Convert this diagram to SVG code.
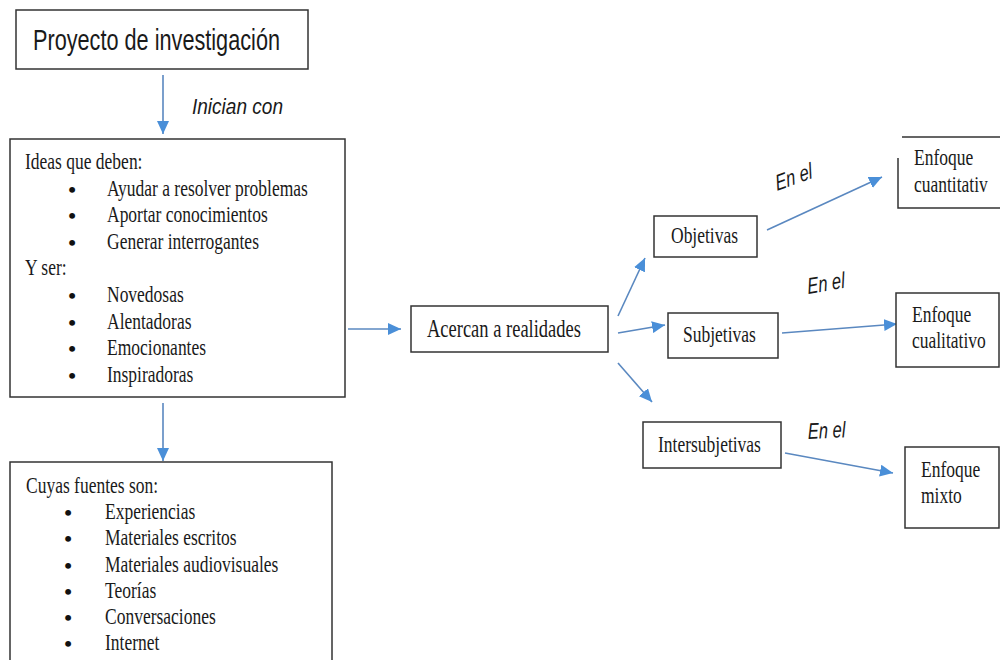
<svg xmlns="http://www.w3.org/2000/svg" width="1000" height="660" viewBox="0 0 1000 660">
<style>
.box{fill:#fff;stroke:#333;stroke-width:1.5}
.t{font-family:"Liberation Serif","Times New Roman",serif;font-size:17.5px;fill:#1a1a1a}
.s{font-family:"Liberation Sans",Arial,sans-serif;fill:#1a1a1a}
.i{font-family:"Liberation Sans",Arial,sans-serif;font-style:italic;font-size:16.5px;fill:#1a1a1a}
.b{font-family:"Liberation Serif","Times New Roman",serif;font-size:22px;font-weight:bold;fill:#111;text-anchor:middle}
.ar{stroke:#5a88c0;stroke-width:1.6;fill:none;marker-end:url(#ah)}
</style>
<defs>
<marker id="ah" markerUnits="userSpaceOnUse" markerWidth="14" markerHeight="12" refX="13" refY="6" orient="auto">
<path d="M0,0 L13,6 L0,12 Z" fill="#4a8fd8"/>
</marker>
</defs>
<rect width="1000" height="660" fill="#fff"/>

<g id="connectors">
<line class="ar" x1="163" y1="75" x2="163" y2="134"/>
<line class="ar" x1="163" y1="403" x2="163" y2="461"/>
<line class="ar" x1="348" y1="329" x2="401" y2="329"/>
<line class="ar" x1="618" y1="316" x2="645" y2="258"/>
<line class="ar" x1="618" y1="333" x2="665" y2="325"/>
<line class="ar" x1="618" y1="363" x2="652" y2="402"/>
<line class="ar" x1="767" y1="230" x2="882" y2="177"/>
<line class="ar" x1="782" y1="333" x2="897" y2="324"/>
<line class="ar" x1="785" y1="453" x2="893" y2="473"/>
<text class="i" transform="translate(192,114) scale(1,1.37)" textLength="91" lengthAdjust="spacingAndGlyphs">Inician con</text>
<text class="i" transform="translate(777,191) scale(1,1.37) rotate(-15)">En el</text>
<text class="i" transform="translate(808,294) scale(1,1.37) rotate(-7)">En el</text>
<text class="i" transform="translate(808,439) scale(1,1.37) rotate(-2)">En el</text>
</g>

<g id="proyecto">
<rect class="box" x="16" y="10" width="292" height="59"/>
<text class="s" font-size="21.5" transform="translate(33,49.5) scale(1,1.37)" textLength="247" lengthAdjust="spacingAndGlyphs">Proyecto de investigación</text>
</g>

<g id="ideas">
<rect class="box" x="10" y="139" width="335" height="258"/>
<text class="t" transform="translate(25,169) scale(1,1.37)">Ideas que deben:</text>
<text class="b" x="72" y="196.6">•</text>
<text class="t" transform="translate(107,195.6) scale(1,1.37)">Ayudar a resolver problemas</text>
<text class="b" x="72" y="223.2">•</text>
<text class="t" transform="translate(107,222.2) scale(1,1.37)">Aportar conocimientos</text>
<text class="b" x="72" y="249.8">•</text>
<text class="t" transform="translate(107,248.8) scale(1,1.37)">Generar interrogantes</text>
<text class="t" transform="translate(25,275.4) scale(1,1.37)">Y ser:</text>
<text class="b" x="72" y="303">•</text>
<text class="t" transform="translate(107,302) scale(1,1.37)">Novedosas</text>
<text class="b" x="72" y="329.6">•</text>
<text class="t" transform="translate(107,328.6) scale(1,1.37)">Alentadoras</text>
<text class="b" x="72" y="356.2">•</text>
<text class="t" transform="translate(107,355.2) scale(1,1.37)">Emocionantes</text>
<text class="b" x="72" y="382.8">•</text>
<text class="t" transform="translate(107,381.8) scale(1,1.37)">Inspiradoras</text>
</g>

<g id="fuentes">
<rect class="box" x="10" y="462" width="322" height="210"/>
<text class="t" transform="translate(26,493) scale(1,1.37)">Cuyas fuentes son:</text>
<text class="b" x="68" y="520.2">•</text>
<text class="t" transform="translate(105,519.2) scale(1,1.37)">Experiencias</text>
<text class="b" x="68" y="546.4">•</text>
<text class="t" transform="translate(105,545.4) scale(1,1.37)">Materiales escritos</text>
<text class="b" x="68" y="572.6">•</text>
<text class="t" transform="translate(105,571.6) scale(1,1.37)">Materiales audiovisuales</text>
<text class="b" x="68" y="598.8">•</text>
<text class="t" transform="translate(105,597.8) scale(1,1.37)">Teorías</text>
<text class="b" x="68" y="625">•</text>
<text class="t" transform="translate(105,624) scale(1,1.37)">Conversaciones</text>
<text class="b" x="68" y="651.2">•</text>
<text class="t" transform="translate(105,650.2) scale(1,1.37)">Internet</text>
</g>

<g id="acercan">
<rect class="box" x="411" y="306" width="197" height="46"/>
<text class="t" style="font-size:18.5px" transform="translate(427,337) scale(1,1.37)">Acercan a realidades</text>
</g>

<g id="objetivas">
<rect class="box" x="654" y="216" width="103" height="41"/>
<text class="t" transform="translate(671,243) scale(1,1.37)">Objetivas</text>
</g>

<g id="subjetivas">
<rect class="box" x="668" y="313" width="110" height="45"/>
<text class="t" transform="translate(683,342) scale(1,1.37)">Subjetivas</text>
</g>

<g id="intersubjetivas">
<rect class="box" x="643" y="422" width="138" height="46"/>
<text class="t" transform="translate(658,452) scale(1,1.37)">Intersubjetivas</text>
</g>

<g id="cuantitativo">
<path class="box" d="M1001,137 H902 M898,158 V208 H1001" style="fill:none"/>
<text class="t" transform="translate(914,165) scale(1,1.37)">Enfoque</text>
<text class="t" transform="translate(914,192) scale(1,1.37)">cuantitativ</text>
</g>

<g id="cualitativo">
<rect class="box" x="896" y="293" width="103" height="74"/>
<text class="t" transform="translate(912,322) scale(1,1.37)">Enfoque</text>
<text class="t" transform="translate(912,348) scale(1,1.37)">cualitativo</text>
</g>

<g id="mixto">
<rect class="box" x="905" y="447" width="94" height="81"/>
<text class="t" transform="translate(921,477) scale(1,1.37)">Enfoque</text>
<text class="t" transform="translate(921,503) scale(1,1.37)">mixto</text>
</g>
</svg>
